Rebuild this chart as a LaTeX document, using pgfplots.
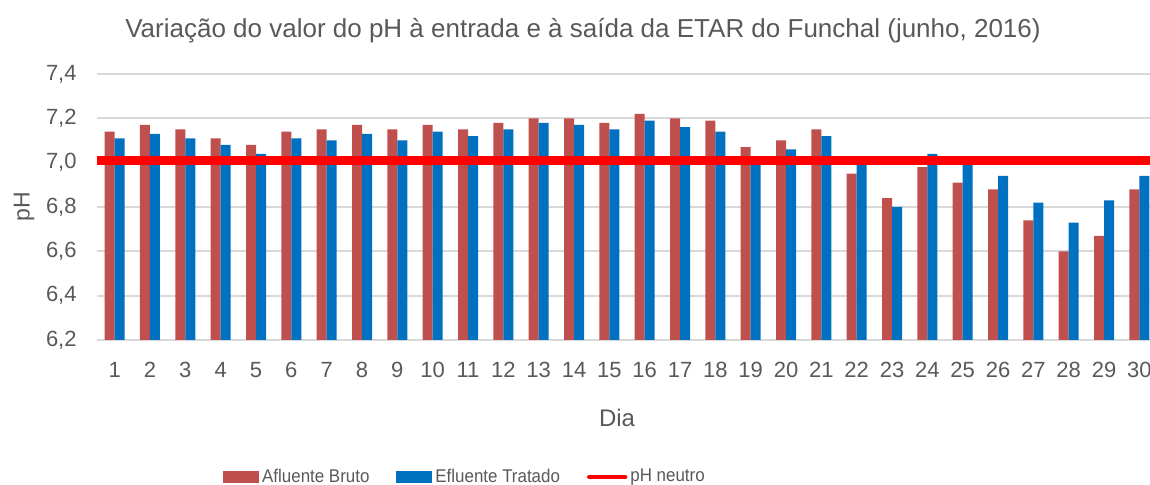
\documentclass[border=0pt]{standalone}
\usepackage{pgfplots}
\pgfplotsset{compat=1.18}
\usepackage{fontspec}
\setmainfont{Liberation Sans}
\definecolor{txt}{HTML}{595959}
\definecolor{cafl}{HTML}{C0504D}
\definecolor{cefl}{HTML}{0070C0}
\definecolor{cgrid}{HTML}{D9D9D9}
\newcommand{\legtxt}[1]{\scalebox{0.92}[1]{#1}}
\begin{document}
\begin{tikzpicture}
\path[use as bounding box] (-48.5pt,-72.5pt) rectangle (526.5pt,170pt);
\begin{axis}[
  at={(0pt,0pt)}, anchor=south west,
  scale only axis, width=530pt, height=133pt,
  xmin=0.5, xmax=30.5, ymin=6.2, ymax=7.4,
  xtick={1,...,30},
  ytick={6.2,6.4,6.6,6.8,7.0,7.2,7.4},
  axis line style={draw=none},
  major tick length=0pt,
  ymajorgrids, grid style={cgrid, line width=0.9pt},
  /pgf/number format/.cd, fixed, fixed zerofill, precision=1, use comma, assume math mode=true,
  /pgfplots/.cd,
  yticklabel style={anchor=east, inner sep=0pt, xshift=-10pt, font=\fontsize{11}{13}\selectfont, text=txt},
  xticklabel style={anchor=base, inner sep=0pt, yshift=-19pt, font=\fontsize{11}{13}\selectfont, text=txt},
  xticklabel={\pgfmathprintnumber[precision=0]{\tick}},
  legend style={at={(0.3476,-0.515)}, anchor=center, draw=none, fill=none,
    legend columns=3, font=\fontsize{9.2}{11}\selectfont, text=txt,
    /tikz/every even column/.append style={column sep=12pt},
    inner sep=0pt, nodes={inner sep=1.5pt}},
  legend cell align=left,
]
\addplot[ybar, bar width=5pt, bar shift=-2.5pt, fill=cafl, draw=none,
  legend image code/.code={\fill[cafl] (0pt,-3pt) rectangle (18pt,3pt);}]
coordinates {
(1,7.14)(2,7.17)(3,7.15)(4,7.11)(5,7.08)(6,7.14)(7,7.15)(8,7.17)(9,7.15)(10,7.17)
(11,7.15)(12,7.18)(13,7.20)(14,7.20)(15,7.18)(16,7.22)(17,7.20)(18,7.19)(19,7.07)(20,7.10)
(21,7.15)(22,6.95)(23,6.84)(24,6.98)(25,6.91)(26,6.88)(27,6.74)(28,6.60)(29,6.67)(30,6.88)};
\addlegendentry{\legtxt{Afluente Bruto}}
\addplot[ybar, bar width=5pt, bar shift=2.5pt, fill=cefl, draw=none,
  legend image code/.code={\fill[cefl] (0pt,-3pt) rectangle (18pt,3pt);}]
coordinates {
(1,7.11)(2,7.13)(3,7.11)(4,7.08)(5,7.04)(6,7.11)(7,7.10)(8,7.13)(9,7.10)(10,7.14)
(11,7.12)(12,7.15)(13,7.18)(14,7.17)(15,7.15)(16,7.19)(17,7.16)(18,7.14)(19,7.03)(20,7.06)
(21,7.12)(22,7.00)(23,6.80)(24,7.04)(25,6.99)(26,6.94)(27,6.82)(28,6.73)(29,6.83)(30,6.94)};
\addlegendentry{\legtxt{Efluente Tratado}}
\addplot[red, line width=4.5pt, mark=none,
  legend image code/.code={\draw[red, line width=2.2pt, line cap=round] (0pt,0pt) -- (18pt,0pt);}]
coordinates {(0.5,7.01)(30.5,7.01)};
\addlegendentry{\legtxt{pH neutro}}
\end{axis}
\node[text=txt, font=\fontsize{13}{15}\selectfont] at (243pt,154.5pt) {Variação do valor do pH à entrada e à saída da ETAR do Funchal (junho, 2016)};
\node[text=txt, font=\fontsize{11.5}{13}\selectfont, rotate=90] at (-36.5pt,66.5pt) {pH};
\node[text=txt, font=\fontsize{12}{14}\selectfont] at (260pt,-39pt) {Dia};
\end{tikzpicture}
\end{document}
